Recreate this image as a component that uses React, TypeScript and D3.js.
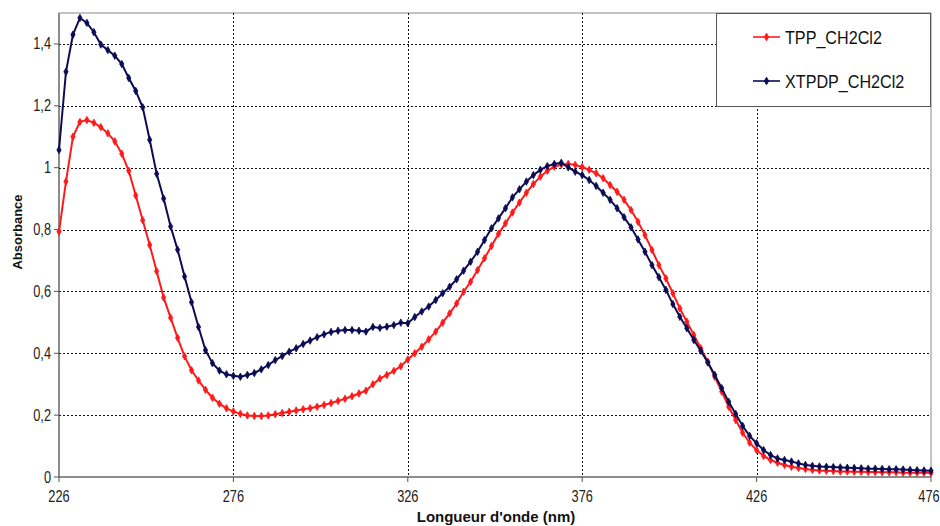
import * as d3 from "d3";
import React, { useEffect, useRef } from "react";

// wavelength grid (nm), 2 nm step
const wavelengths: number[] = d3.range(226, 477, 2);

// TPP in CH2Cl2
const tppValues: number[] = [
  0.793, 0.955, 1.1, 1.148, 1.154, 1.145, 1.131, 1.111, 1.085, 1.045, // 226-244
  0.99, 0.91, 0.83, 0.75, 0.665, 0.58, 0.515, 0.45, 0.39, 0.345, // 246-264
  0.312, 0.282, 0.256, 0.237, 0.222, 0.212, 0.204, 0.199, 0.197, 0.197, // 266-284
  0.199, 0.203, 0.207, 0.211, 0.215, 0.219, 0.222, 0.227, 0.233, 0.239, // 286-304
  0.246, 0.253, 0.261, 0.27, 0.279, 0.3, 0.318, 0.33, 0.343, 0.358, // 306-324
  0.38, 0.4, 0.421, 0.445, 0.47, 0.499, 0.529, 0.561, 0.599, 0.631, // 326-344
  0.669, 0.707, 0.747, 0.786, 0.82, 0.855, 0.887, 0.919, 0.947, 0.971, // 346-364
  0.99, 1.003, 1.01, 1.012, 1.009, 1.002, 0.993, 0.982, 0.966, 0.944, // 366-384
  0.922, 0.896, 0.863, 0.825, 0.782, 0.734, 0.685, 0.642, 0.594, 0.545, // 386-404
  0.502, 0.459, 0.416, 0.373, 0.324, 0.276, 0.227, 0.184, 0.143, 0.111, // 406-424
  0.087, 0.068, 0.055, 0.046, 0.039, 0.033, 0.029, 0.026, 0.023, 0.021, // 426-444
  0.02, 0.019, 0.018, 0.018, 0.017, 0.017, 0.016, 0.016, 0.015, 0.015, // 446-464
  0.015, 0.014, 0.014, 0.014, 0.014, 0.013 // 466-476
];

// XTPDP in CH2Cl2
const xtpdpValues: number[] = [
  1.057, 1.31, 1.43, 1.484, 1.468, 1.438, 1.398, 1.38, 1.362, 1.335, // 226-244
  1.29, 1.248, 1.195, 1.09, 0.98, 0.9, 0.81, 0.735, 0.648, 0.565, // 246-264
  0.485, 0.41, 0.368, 0.344, 0.332, 0.327, 0.324, 0.33, 0.336, 0.348, // 266-284
  0.362, 0.378, 0.391, 0.405, 0.416, 0.43, 0.441, 0.452, 0.461, 0.469, // 286-304
  0.473, 0.475, 0.475, 0.473, 0.47, 0.485, 0.482, 0.486, 0.491, 0.499, // 306-324
  0.497, 0.517, 0.535, 0.551, 0.572, 0.594, 0.615, 0.639, 0.667, 0.696, // 326-344
  0.728, 0.766, 0.804, 0.836, 0.869, 0.904, 0.93, 0.955, 0.976, 0.993, // 346-364
  1.005, 1.012, 1.016, 1.001, 0.987, 0.976, 0.96, 0.941, 0.919, 0.896, // 366-384
  0.869, 0.84, 0.807, 0.768, 0.728, 0.685, 0.646, 0.605, 0.559, 0.518, // 386-404
  0.481, 0.443, 0.408, 0.37, 0.33, 0.287, 0.243, 0.204, 0.165, 0.133, // 406-424
  0.109, 0.087, 0.071, 0.06, 0.055, 0.05, 0.044, 0.039, 0.036, 0.034, // 426-444
  0.033, 0.032, 0.031, 0.03, 0.029, 0.028, 0.027, 0.027, 0.026, 0.025, // 446-464
  0.025, 0.024, 0.023, 0.022, 0.021, 0.02 // 466-476
];

const xTicks = [226, 276, 326, 376, 426, 476];
const yTicks = [0, 0.2, 0.4, 0.6, 0.8, 1, 1.2, 1.4];

const series = [
  { name: "TPP_CH2Cl2", color: "#ff1a1a", values: tppValues },
  { name: "XTPDP_CH2Cl2", color: "#0c0c55", values: xtpdpValues }
];

const width = 940;
const height = 526;
const margin = { top: 13, right: 9, bottom: 49, left: 59 };

const fmt = (v: number) => String(+v.toFixed(1)).replace(".", ",");

export default function App() {
  const ref = useRef<SVGSVGElement>(null);

  useEffect(() => {
    document.body.style.margin = "0";
    const svg = d3.select(ref.current);
    svg.selectAll("*").remove();

    const w = width - margin.left - margin.right;
    const h = height - margin.top - margin.bottom;

    const x = d3.scaleLinear().domain([226, 476]).range([0, w]);
    const y = d3.scaleLinear().domain([0, 1.5]).range([h, 0]);

    svg.append("rect").attr("width", width).attr("height", height).attr("fill", "#fff");

    const g = svg
      .append("g")
      .attr("transform", "translate(" + margin.left + "," + margin.top + ")");

    // frame
    g.append("rect")
      .attr("width", w)
      .attr("height", h)
      .attr("fill", "none")
      .attr("stroke", "#8a8a8a");

    // grid
    g.selectAll(".hgrid")
      .data(yTicks.filter(d => d > 0))
      .enter()
      .append("line")
      .attr("x1", 0)
      .attr("x2", w)
      .attr("y1", d => Math.round(y(d)) + 0.5)
      .attr("y2", d => Math.round(y(d)) + 0.5)
      .attr("stroke", "#111")
      .attr("stroke-dasharray", "2,2");
    g.selectAll(".vgrid")
      .data(xTicks.slice(1, -1))
      .enter()
      .append("line")
      .attr("x1", d => Math.round(x(d)) + 0.5)
      .attr("x2", d => Math.round(x(d)) + 0.5)
      .attr("y1", 0)
      .attr("y2", h)
      .attr("stroke", "#111")
      .attr("stroke-dasharray", "2,2");

    // axes
    const tickFont = (sel: any) =>
      sel
        .attr("font-family", "'Liberation Sans', Arial, sans-serif")
        .attr("font-size", 16)
        .attr("fill", "#222");

    const xAxis = g.append("g").attr("transform", "translate(0," + h + ")");
    xAxis.append("line").attr("x1", 0).attr("x2", w).attr("stroke", "#555");
    xTicks.forEach((t, i) => {
      xAxis
        .append("line")
        .attr("x1", x(t))
        .attr("x2", x(t))
        .attr("y1", 0)
        .attr("y2", 5)
        .attr("stroke", "#555");
      const shift = i === xTicks.length - 1 ? -2 : 0;
      tickFont(
        xAxis
          .append("text")
          .attr("transform", "translate(" + (x(t) + shift) + ",25) scale(0.8,1)")
          .attr("text-anchor", "middle")
          .text(String(t))
      );
    });

    const yAxis = g.append("g");
    yAxis.append("line").attr("y1", 0).attr("y2", h).attr("stroke", "#555");
    yTicks.forEach(t => {
      yAxis
        .append("line")
        .attr("x1", -5)
        .attr("x2", 0)
        .attr("y1", y(t))
        .attr("y2", y(t))
        .attr("stroke", "#555");
      tickFont(
        yAxis
          .append("text")
          .attr("transform", "translate(-8," + (y(t) + 5.5) + ") scale(0.8,1)")
          .attr("text-anchor", "end")
          .text(fmt(t))
      );
    });

    // axis titles
    svg
      .append("text")
      .attr("x", 496)
      .attr("y", 522)
      .attr("text-anchor", "middle")
      .attr("font-family", "'Liberation Sans', Arial, sans-serif")
      .attr("font-weight", "bold")
      .attr("font-size", 15)
      .attr("fill", "#111")
      .text("Longueur d'onde (nm)");
    svg
      .append("text")
      .attr("transform", "translate(22,232) rotate(-90)")
      .attr("text-anchor", "middle")
      .attr("font-family", "'Liberation Sans', Arial, sans-serif")
      .attr("font-weight", "bold")
      .attr("font-size", 13)
      .attr("fill", "#111")
      .text("Absorbance");

    // series
    const line = d3
      .line<number>()
      .x((d, i) => x(wavelengths[i]))
      .y(d => y(d));
    const marker = d3.symbol().type(d3.symbolDiamond).size(16);

    series.forEach(s => {
      g.append("path")
        .datum(s.values)
        .attr("d", line)
        .attr("fill", "none")
        .attr("stroke", s.color)
        .attr("stroke-width", 2);
      g.selectAll(null)
        .data(s.values)
        .enter()
        .append("path")
        .attr("d", marker)
        .attr("transform", (d, i) => "translate(" + x(wavelengths[i]) + "," + y(d) + ")")
        .attr("fill", s.color)
        .attr("stroke", s.color)
        .attr("stroke-width", 0.8);
    });

    // legend
    const lg = svg.append("g").attr("transform", "translate(716,13)");
    lg.append("rect")
      .attr("x", 0.5)
      .attr("y", 0.5)
      .attr("width", 214)
      .attr("height", 93)
      .attr("fill", "#fff")
      .attr("stroke", "#555");
    series.forEach((s, i) => {
      const cy = 24 + i * 44;
      lg.append("line")
        .attr("x1", 37)
        .attr("x2", 64)
        .attr("y1", cy)
        .attr("y2", cy)
        .attr("stroke", s.color)
        .attr("stroke-width", 1.6);
      lg.append("path")
        .attr("d", marker)
        .attr("transform", "translate(50.5," + cy + ")")
        .attr("fill", s.color)
        .attr("stroke", s.color);
      lg.append("text")
        .attr("transform", "translate(69," + (cy + 7) + ") scale(0.85,1)")
        .attr("font-family", "'Liberation Sans', Arial, sans-serif")
        .attr("font-size", 19)
        .attr("fill", "#111")
        .text(s.name);
    });
  }, []);

  return <svg ref={ref} width={width} height={height} style={{ display: "block" }} />;
}
